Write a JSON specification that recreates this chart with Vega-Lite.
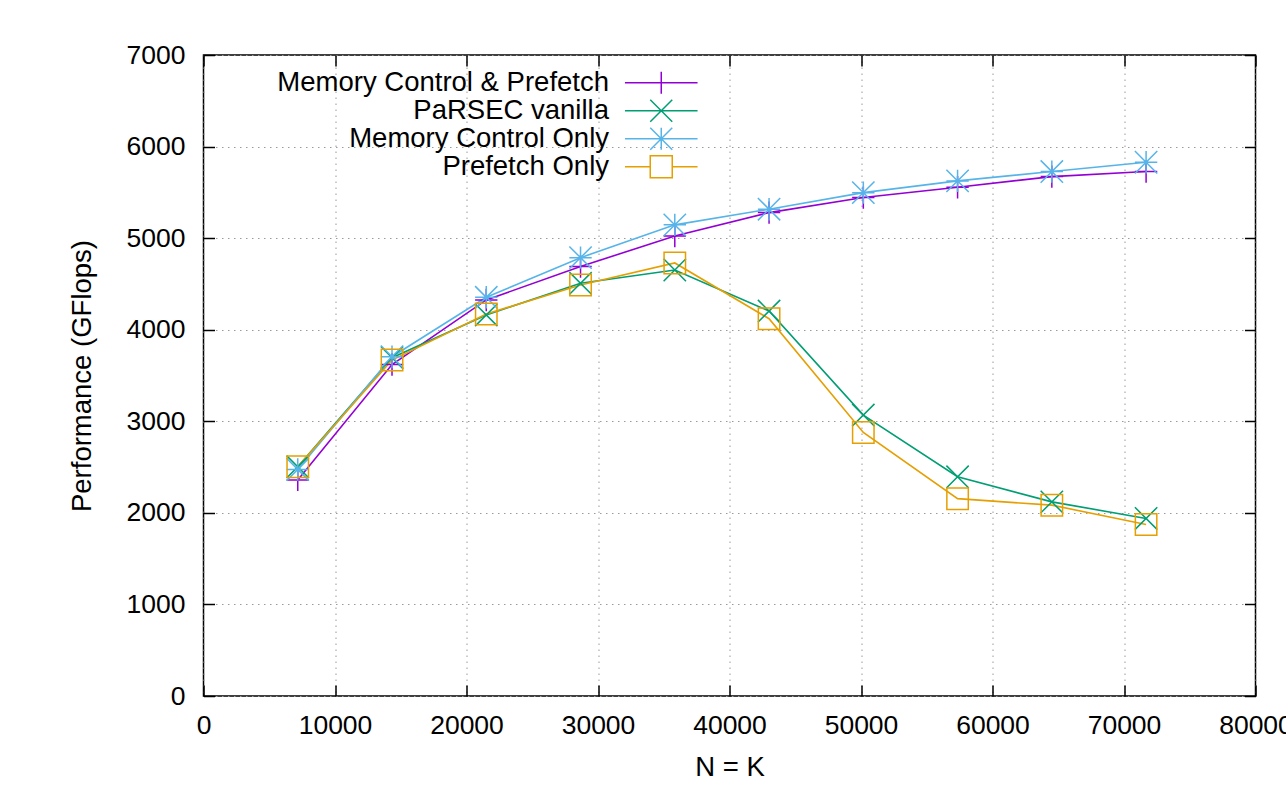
{
  "$schema": "https://vega.github.io/schema/vega-lite/v6.json",
  "width": 1052,
  "height": 641,
  "autosize": {"type": "none"},
  "padding": {"left": 203.5, "top": 55, "right": 30.5, "bottom": 112},
  "background": "white",
  "config": {
    "font": "Liberation Sans",
    "view": {"stroke": "#000", "strokeWidth": 1.5},
    "axis": {
      "labelFontSize": 26.5,
      "labelColor": "#000",
      "labelFont": "Liberation Sans",
      "titleFont": "Liberation Sans",
      "titleFontSize": 27.5,
      "titleFontWeight": "normal",
      "titleColor": "#000",
      "tickColor": "#000",
      "tickWidth": 1.5,
      "tickSize": -11,
      "domain": false,
      "labelFlush": false,
      "labelOverlap": false,
      "gridColor": "#9a9a9a",
      "gridDash": [1.5, 4.5],
      "gridWidth": 1
    },
    "legend": {"padding": 0}
  },
  "data": {
    "values": [
      {"series": "Memory Control & Prefetch", "N": 7168, "gflops": 2360},
      {"series": "Memory Control & Prefetch", "N": 14336, "gflops": 3620},
      {"series": "Memory Control & Prefetch", "N": 21504, "gflops": 4325},
      {"series": "Memory Control & Prefetch", "N": 28672, "gflops": 4690},
      {"series": "Memory Control & Prefetch", "N": 35840, "gflops": 5024},
      {"series": "Memory Control & Prefetch", "N": 43008, "gflops": 5279},
      {"series": "Memory Control & Prefetch", "N": 50176, "gflops": 5443},
      {"series": "Memory Control & Prefetch", "N": 57344, "gflops": 5556},
      {"series": "Memory Control & Prefetch", "N": 64512, "gflops": 5672},
      {"series": "Memory Control & Prefetch", "N": 71680, "gflops": 5727},
      {"series": "PaRSEC vanilla", "N": 7168, "gflops": 2503},
      {"series": "PaRSEC vanilla", "N": 14336, "gflops": 3694},
      {"series": "PaRSEC vanilla", "N": 21504, "gflops": 4161},
      {"series": "PaRSEC vanilla", "N": 28672, "gflops": 4507},
      {"series": "PaRSEC vanilla", "N": 35840, "gflops": 4652},
      {"series": "PaRSEC vanilla", "N": 43008, "gflops": 4204},
      {"series": "PaRSEC vanilla", "N": 50176, "gflops": 3068},
      {"series": "PaRSEC vanilla", "N": 57344, "gflops": 2394},
      {"series": "PaRSEC vanilla", "N": 64512, "gflops": 2120},
      {"series": "PaRSEC vanilla", "N": 71680, "gflops": 1939},
      {"series": "Memory Control Only", "N": 7168, "gflops": 2474},
      {"series": "Memory Control Only", "N": 14336, "gflops": 3705},
      {"series": "Memory Control Only", "N": 21504, "gflops": 4354},
      {"series": "Memory Control Only", "N": 28672, "gflops": 4787},
      {"series": "Memory Control Only", "N": 35840, "gflops": 5145},
      {"series": "Memory Control Only", "N": 43008, "gflops": 5316},
      {"series": "Memory Control Only", "N": 50176, "gflops": 5497},
      {"series": "Memory Control Only", "N": 57344, "gflops": 5625},
      {"series": "Memory Control Only", "N": 64512, "gflops": 5727},
      {"series": "Memory Control Only", "N": 71680, "gflops": 5829},
      {"series": "Prefetch Only", "N": 7168, "gflops": 2503},
      {"series": "Prefetch Only", "N": 14336, "gflops": 3669},
      {"series": "Prefetch Only", "N": 21504, "gflops": 4172},
      {"series": "Prefetch Only", "N": 28672, "gflops": 4488},
      {"series": "Prefetch Only", "N": 35840, "gflops": 4729},
      {"series": "Prefetch Only", "N": 43008, "gflops": 4120},
      {"series": "Prefetch Only", "N": 50176, "gflops": 2878},
      {"series": "Prefetch Only", "N": 57344, "gflops": 2155},
      {"series": "Prefetch Only", "N": 64512, "gflops": 2084},
      {"series": "Prefetch Only", "N": 71680, "gflops": 1873}
    ]
  },
  "layer": [
    {
      "mark": {"type": "line", "strokeWidth": 1.6},
      "encoding": {
        "x": {
          "field": "N", "type": "quantitative",
          "scale": {"domain": [0, 80000], "nice": false, "zero": false},
          "axis": {
            "orient": "bottom", "title": "N = K", "format": "d",
            "values": [0, 10000, 20000, 30000, 40000, 50000, 60000, 70000, 80000],
            "grid": true, "labelPadding": 27.5, "titlePadding": 14
          }
        },
        "y": {
          "field": "gflops", "type": "quantitative",
          "scale": {"domain": [0, 7000], "nice": false},
          "axis": {
            "orient": "left", "title": "Performance (GFlops)", "format": "d",
            "values": [0, 1000, 2000, 3000, 4000, 5000, 6000, 7000],
            "grid": true, "labelPadding": 29.5, "titlePadding": 30
          }
        },
        "color": {
          "field": "series", "type": "nominal",
          "scale": {
            "domain": ["Memory Control & Prefetch", "PaRSEC vanilla", "Memory Control Only", "Prefetch Only"],
            "range": ["#9400d3", "#009e73", "#56b4e9", "#e69f00"]
          },
          "legend": {
            "title": null, "orient": "none", "legendX": 444, "legendY": 14,
            "labelFontSize": 27.5, "labelColor": "#000", "labelAlign": "right",
            "labelOffset": -66, "labelLimit": 1000, "symbolSize": 484,
            "symbolStrokeWidth": 1.5, "symbolFillColor": "transparent", "rowPadding": -1.8,
            "encode": {
              "symbols": {
                "update": {
                  "shape": {"signal": "datum.value === 'Memory Control & Prefetch' ? 'M-3.3,0L3.3,0M0,-1L0,1' : datum.value === 'PaRSEC vanilla' ? 'M-3.3,0L3.3,0M-1,-1L1,1M-1,1L1,-1' : datum.value === 'Memory Control Only' ? 'M-3.3,0L3.3,0M0,-1L0,1M-1,-1L1,1M-1,1L1,-1' : 'M-3.3,0L-1,0M1,0L3.3,0M-1,-1L1,-1L1,1L-1,1Z'"},
                  "fill": {"value": "transparent"},
                  "size": {"value": 484}
                }
              }
            }
          }
        },
        "order": {"field": "N", "type": "quantitative"}
      }
    },
    {
      "transform": [{"filter": "datum.series === 'Memory Control & Prefetch'"}],
      "mark": {"type": "point", "filled": false, "strokeWidth": 1.5, "size": 500, "opacity": 1, "shape": "M-1,0L1,0M0,-1L0,1"},
      "encoding": {
        "x": {
          "field": "N", "type": "quantitative",
          "axis": {
            "orient": "top", "title": null, "labels": false, "grid": false,
            "values": [0, 10000, 20000, 30000, 40000, 50000, 60000, 70000, 80000]
          }
        },
        "y": {
          "field": "gflops", "type": "quantitative",
          "axis": {
            "orient": "right", "title": null, "labels": false, "grid": false,
            "values": [0, 1000, 2000, 3000, 4000, 5000, 6000, 7000]
          }
        },
        "color": {"field": "series", "type": "nominal"}
      }
    },
    {
      "transform": [{"filter": "datum.series === 'PaRSEC vanilla'"}],
      "mark": {"type": "point", "filled": false, "strokeWidth": 1.5, "size": 500, "opacity": 1, "shape": "M-1,-1L1,1M-1,1L1,-1"},
      "encoding": {
        "x": {"field": "N", "type": "quantitative", "axis": null},
        "y": {"field": "gflops", "type": "quantitative", "axis": null},
        "color": {"field": "series", "type": "nominal"}
      }
    },
    {
      "transform": [{"filter": "datum.series === 'Memory Control Only'"}],
      "mark": {"type": "point", "filled": false, "strokeWidth": 1.5, "size": 500, "opacity": 1, "shape": "M-1,0L1,0M0,-1L0,1M-1,-1L1,1M-1,1L1,-1"},
      "encoding": {
        "x": {"field": "N", "type": "quantitative", "axis": null},
        "y": {"field": "gflops", "type": "quantitative", "axis": null},
        "color": {"field": "series", "type": "nominal"}
      }
    },
    {
      "transform": [{"filter": "datum.series === 'Prefetch Only'"}],
      "mark": {"type": "point", "filled": false, "strokeWidth": 1.5, "size": 460, "opacity": 1, "shape": "M-1,-1L1,-1L1,1L-1,1Z"},
      "encoding": {
        "x": {"field": "N", "type": "quantitative", "axis": null},
        "y": {"field": "gflops", "type": "quantitative", "axis": null},
        "color": {"field": "series", "type": "nominal"}
      }
    }
  ],
  "resolve": {"axis": {"x": "independent", "y": "independent"}}
}
